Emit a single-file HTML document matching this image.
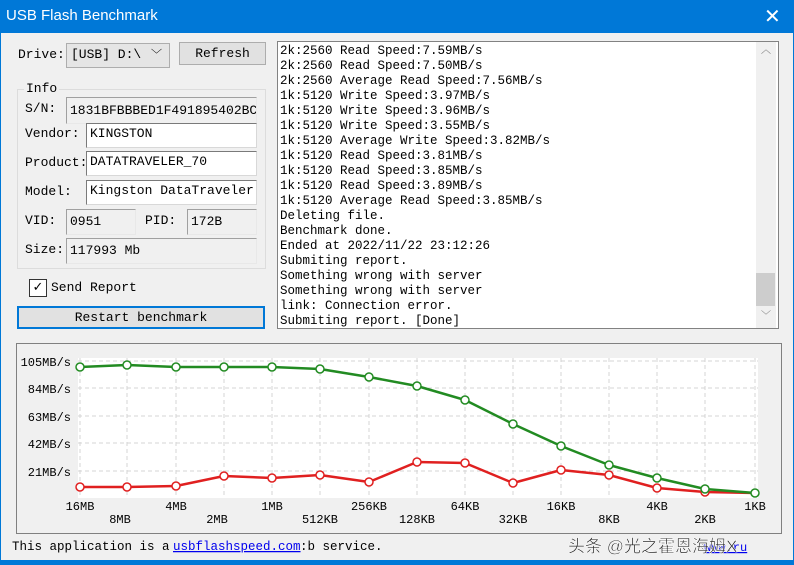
<!DOCTYPE html>
<html><head><meta charset="utf-8"><style>
*{box-sizing:border-box;margin:0;padding:0}
body{width:794px;height:565px;background:#0078d7;position:relative;overflow:hidden;font-family:"Liberation Mono","Noto Serif CJK SC",monospace;font-size:13px;color:#000}
.win{position:absolute;left:1px;top:33px;width:792px;height:527px;background:#f0f0f0}
.abs{position:absolute}
.title{position:absolute;left:6px;top:7px;color:#fff;font-family:"Liberation Sans",sans-serif;font-size:15px}
.x{position:absolute;left:764px;top:4px;color:#fff;font-family:"Liberation Sans",sans-serif;font-size:20px}
.box{position:absolute;background:#fff;border:1px solid #7a7a7a;border-right-color:#d8d8d8;border-bottom-color:#d8d8d8;padding:2px 3px;white-space:nowrap;overflow:hidden}
.ro{background:#f0f0f0;border:1px solid #a0a0a0;border-right-color:#e8e8e8;border-bottom-color:#e8e8e8}
.lbl{position:absolute;white-space:nowrap}
.btn{position:absolute;background:#e1e1e1;border:1px solid #adadad;text-align:center}
.log{position:absolute;left:277px;top:41px;width:502px;height:288px;background:#fff;border:1px solid #828282}
.log div{font-size:12.5px;line-height:15px;white-space:pre}
</style></head><body>
<div class="title">USB Flash Benchmark</div>
<div class="x">✕</div>
<div class="win"></div>
<div class="lbl" style="left:18px;top:47px">Drive:</div>
<div class="box ro" style="left:66px;top:43px;width:104px;height:25px;background:#e5e5e5;border:1px solid #adadad;padding:3px 4px">[USB] D:\ <span style="position:absolute;left:84px;top:2px;font-size:11px">﹀</span></div>
<div class="btn" style="left:179px;top:42px;width:87px;height:23px;line-height:21px">Refresh</div>
<div class="abs" style="left:17px;top:89px;width:249px;height:180px;border:1px solid #dcdcdc"></div>
<div class="lbl" style="left:24px;top:81px;background:#f0f0f0;padding:0 2px">Info</div>
<div class="lbl" style="left:25px;top:101px">S/N:</div>
<div class="box ro" style="left:66px;top:97px;width:191px;height:27px;padding-top:5px">1831BFBBBED1F491895402BC</div>
<div class="lbl" style="left:25px;top:126px">Vendor:</div>
<div class="box" style="left:86px;top:123px;width:171px;height:25px">KINGSTON</div>
<div class="lbl" style="left:25px;top:155px">Product:</div>
<div class="box" style="left:86px;top:151px;width:171px;height:25px">DATATRAVELER_70</div>
<div class="lbl" style="left:25px;top:184px">Model:</div>
<div class="box" style="left:86px;top:180px;width:171px;height:25px">Kingston DataTraveler</div>
<div class="lbl" style="left:25px;top:213px">VID:</div>
<div class="box ro" style="left:66px;top:209px;width:70px;height:26px;padding-top:4px">0951</div>
<div class="lbl" style="left:145px;top:213px">PID:</div>
<div class="box ro" style="left:187px;top:209px;width:70px;height:26px;padding-top:4px">172B</div>
<div class="lbl" style="left:25px;top:242px">Size:</div>
<div class="box ro" style="left:66px;top:238px;width:191px;height:26px;padding-top:4px">117993 Mb</div>
<div class="abs" style="left:29px;top:279px;width:18px;height:18px;border:1px solid #333;background:#fff;font-family:'DejaVu Sans',sans-serif;font-size:13px;line-height:16px;text-align:center">✓</div>
<div class="lbl" style="left:51px;top:280px">Send Report</div>
<div class="btn" style="left:17px;top:306px;width:248px;height:23px;line-height:19px;border:2px solid #0078d7">Restart benchmark</div>
<div class="log"><div style="padding:2px 0 0 2px">2k:2560 Read Speed:7.59MB/s
2k:2560 Read Speed:7.50MB/s
2k:2560 Average Read Speed:7.56MB/s
1k:5120 Write Speed:3.97MB/s
1k:5120 Write Speed:3.96MB/s
1k:5120 Write Speed:3.55MB/s
1k:5120 Average Write Speed:3.82MB/s
1k:5120 Read Speed:3.81MB/s
1k:5120 Read Speed:3.85MB/s
1k:5120 Read Speed:3.89MB/s
1k:5120 Average Read Speed:3.85MB/s
Deleting file.
Benchmark done.
Ended at 2022/11/22 23:12:26
Submiting report.
Something wrong with server
Something wrong with server
link: Connection error.
Submiting report. [Done]</div>
<div class="abs" style="left:478px;top:0;width:20px;height:286px;background:#f0f0f0"></div>
<div class="abs" style="left:478px;top:231px;width:19px;height:33px;background:#cdcdcd"></div>
<div class="abs" style="left:483px;top:2px;font-size:10px;color:#606060">︿</div>
<div class="abs" style="left:483px;top:268px;font-size:10px;color:#606060">﹀</div>
</div>
<svg class="abs" style="left:0;top:0" width="794" height="565">
<rect x="16.5" y="343.5" width="765" height="190" fill="#f0f0f0" stroke="#808080"/>
<rect x="78" y="358" width="680" height="140" fill="#fff"/>
<g stroke="#d4d4d4" stroke-dasharray="4,3">
<line x1="78" x2="758" y1="361" y2="361"/><line x1="78" x2="758" y1="388" y2="388"/><line x1="78" x2="758" y1="416" y2="416"/><line x1="78" x2="758" y1="443" y2="443"/><line x1="78" x2="758" y1="471" y2="471"/>
<line x1="80" x2="80" y1="358" y2="498"/><line x1="127" x2="127" y1="358" y2="498"/><line x1="176" x2="176" y1="358" y2="498"/><line x1="224" x2="224" y1="358" y2="498"/><line x1="272" x2="272" y1="358" y2="498"/><line x1="320" x2="320" y1="358" y2="498"/><line x1="369" x2="369" y1="358" y2="498"/><line x1="417" x2="417" y1="358" y2="498"/><line x1="465" x2="465" y1="358" y2="498"/><line x1="513" x2="513" y1="358" y2="498"/><line x1="561" x2="561" y1="358" y2="498"/><line x1="609" x2="609" y1="358" y2="498"/><line x1="657" x2="657" y1="358" y2="498"/><line x1="705" x2="705" y1="358" y2="498"/><line x1="755" x2="755" y1="358" y2="498"/>
</g>
<g font-family="Liberation Mono, monospace" font-size="12" text-anchor="end">
<text x="71" y="366">105MB/s</text><text x="71" y="393">84MB/s</text><text x="71" y="421">63MB/s</text><text x="71" y="448">42MB/s</text><text x="71" y="476">21MB/s</text>
</g>
<g font-family="Liberation Mono, monospace" font-size="12" text-anchor="middle">
<text x="80" y="510">16MB</text><text x="176" y="510">4MB</text><text x="272" y="510">1MB</text><text x="369" y="510">256KB</text><text x="465" y="510">64KB</text><text x="561" y="510">16KB</text><text x="657" y="510">4KB</text><text x="755" y="510">1KB</text>
<text x="120" y="523">8MB</text><text x="217" y="523">2MB</text><text x="320" y="523">512KB</text><text x="417" y="523">128KB</text><text x="513" y="523">32KB</text><text x="609" y="523">8KB</text><text x="705" y="523">2KB</text>
</g>
<g fill="none" stroke-width="2.5" stroke-linejoin="round">
<polyline stroke="#e02020" points="80,487 127,487 176,486 224,476 272,478 320,475 369,482 417,462 465,463 513,483 561,470 609,475 657,488 705,492 755,493"/>
<polyline stroke="#228b22" points="80,367 127,365 176,367 224,367 272,367 320,369 369,377 417,386 465,400 513,424 561,446 609,465 657,478 705,489 755,493"/>
</g>
<g fill="#fff" stroke-width="1.5">
<g stroke="#e02020"><circle cx="80" cy="487" r="4"/><circle cx="127" cy="487" r="4"/><circle cx="176" cy="486" r="4"/><circle cx="224" cy="476" r="4"/><circle cx="272" cy="478" r="4"/><circle cx="320" cy="475" r="4"/><circle cx="369" cy="482" r="4"/><circle cx="417" cy="462" r="4"/><circle cx="465" cy="463" r="4"/><circle cx="513" cy="483" r="4"/><circle cx="561" cy="470" r="4"/><circle cx="609" cy="475" r="4"/><circle cx="657" cy="488" r="4"/><circle cx="705" cy="492" r="4"/></g>
<g stroke="#228b22"><circle cx="80" cy="367" r="4"/><circle cx="127" cy="365" r="4"/><circle cx="176" cy="367" r="4"/><circle cx="224" cy="367" r="4"/><circle cx="272" cy="367" r="4"/><circle cx="320" cy="369" r="4"/><circle cx="369" cy="377" r="4"/><circle cx="417" cy="386" r="4"/><circle cx="465" cy="400" r="4"/><circle cx="513" cy="424" r="4"/><circle cx="561" cy="446" r="4"/><circle cx="609" cy="465" r="4"/><circle cx="657" cy="478" r="4"/><circle cx="705" cy="489" r="4"/><circle cx="755" cy="493" r="4"/></g>
</g>
<text x="12" y="550" font-family="Liberation Mono, monospace" font-size="12.5">This application is a</text>
<text x="173" y="550" font-family="Liberation Mono, monospace" font-size="12.5" fill="#0000ee" text-decoration="underline">usbflashspeed.com</text>
<text x="300" y="550" font-family="Liberation Mono, monospace" font-size="12.5">:b service.</text>
<text x="704" y="551" font-family="Liberation Mono, monospace" font-size="12" fill="#0000ee" text-decoration="underline">www.ru</text>
<text x="568" y="552" font-family="Liberation Sans, Noto Sans CJK SC, sans-serif" font-size="17" fill="#222" stroke="#fff" stroke-width="0.5">头条 @光之霍恩海姆X</text>
</svg>
</body></html>
